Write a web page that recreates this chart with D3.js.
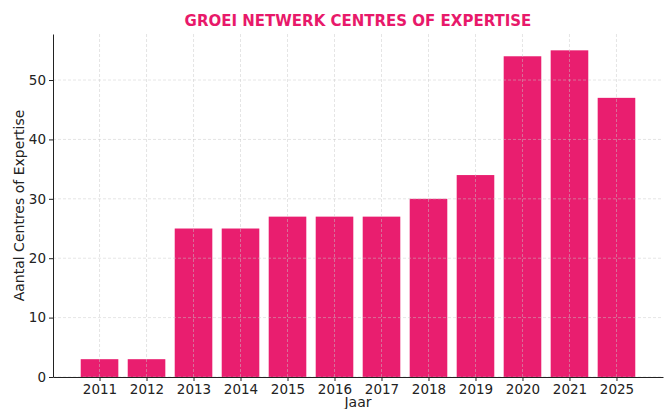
<!DOCTYPE html>
<html lang="nl">
<head>
<meta charset="UTF-8">
<title>Groei netwerk Centres of Expertise</title>
<style>
  body { margin: 0; background: #fff; }
  svg { display: block; font-family: "DejaVu Sans", sans-serif; }
</style>
</head>
<body>
<script src="https://d3js.org/d3.v7.min.js"></script>
<script>
  const years = ["2011", "2012", "2013", "2014", "2015", "2016", "2017", "2018", "2019", "2020", "2021", "2025"];
  const counts = [3, 3, 25, 25, 27, 27, 27, 30, 34, 54, 55, 47];
  const yTicks = [0, 10, 20, 30, 40, 50];

  const width = 671, height = 409;
  const margin = { top: 34, right: 8, bottom: 32, left: 53 };
  const pink = "#e91e6f";

  const svg = d3.select("body").append("svg")
    .attr("width", width)
    .attr("height", height);

  // matplotlib style: bars 0.8 wide, 5% margins on both axes
  const n = years.length;
  const lo = -0.4, hi = n - 1 + 0.4, pad = (hi - lo) * 0.05;
  const x = d3.scaleLinear()
    .domain([lo - pad, hi + pad])
    .range([margin.left, width - margin.right]);

  const y = d3.scaleLinear()
    .domain([0, d3.max(counts) * 1.05])
    .range([height - margin.bottom, margin.top]);

  svg.append("g")
    .selectAll("rect")
    .data(counts)
    .join("rect")
    .attr("x", (d, i) => x(i - 0.4))
    .attr("width", (d, i) => x(i + 0.4) - x(i - 0.4))
    .attr("y", d => y(d))
    .attr("height", d => y(0) - y(d))
    .attr("fill", pink);

  // dashed grid on top of the bars
  const grid = svg.append("g")
    .attr("stroke", "#c8c8c8")
    .attr("stroke-opacity", 0.6)
    .attr("stroke-dasharray", "3,2")
    .attr("stroke-width", 0.8);

  grid.selectAll("line.v")
    .data(years)
    .join("line")
    .attr("class", "v")
    .attr("x1", (d, i) => x(i))
    .attr("x2", (d, i) => x(i))
    .attr("y1", margin.top)
    .attr("y2", height - margin.bottom);

  grid.selectAll("line.h")
    .data(yTicks)
    .join("line")
    .attr("class", "h")
    .attr("x1", margin.left)
    .attr("x2", width - margin.right)
    .attr("y1", d => y(d))
    .attr("y2", d => y(d));

  const xAxis = svg.append("g")
    .attr("transform", `translate(0,${height - margin.bottom})`)
    .call(d3.axisBottom(x)
      .tickValues(d3.range(n))
      .tickFormat(i => years[i])
      .tickSizeInner(4)
      .tickSizeOuter(0)
      .tickPadding(3));

  const yAxis = svg.append("g")
    .attr("transform", `translate(${margin.left},0)`)
    .call(d3.axisLeft(y)
      .tickValues(yTicks)
      .tickSizeInner(4)
      .tickSizeOuter(0)
      .tickPadding(3));

  [xAxis, yAxis].forEach(a => {
    a.selectAll("text")
      .attr("font-family", "DejaVu Sans, sans-serif")
      .attr("font-size", 13.5)
      .attr("fill", "#222");
    a.selectAll("line").attr("stroke", "#222");
    a.select(".domain").attr("stroke", "#222");
  });

  svg.append("text")
    .attr("x", (margin.left + width - margin.right) / 2)
    .attr("y", 26)
    .attr("text-anchor", "middle")
    .attr("font-size", 15)
    .attr("font-weight", "bold")
    .attr("fill", "#e8196a")
    .text("GROEI NETWERK CENTRES OF EXPERTISE");

  svg.append("text")
    .attr("x", (margin.left + width - margin.right) / 2)
    .attr("y", 407)
    .attr("text-anchor", "middle")
    .attr("font-size", 14)
    .attr("fill", "#222")
    .text("Jaar");

  svg.append("text")
    .attr("transform", `translate(24,${(margin.top + height - margin.bottom) / 2}) rotate(-90)`)
    .attr("text-anchor", "middle")
    .attr("font-size", 14)
    .attr("fill", "#222")
    .text("Aantal Centres of Expertise");
</script>
</body>
</html>
